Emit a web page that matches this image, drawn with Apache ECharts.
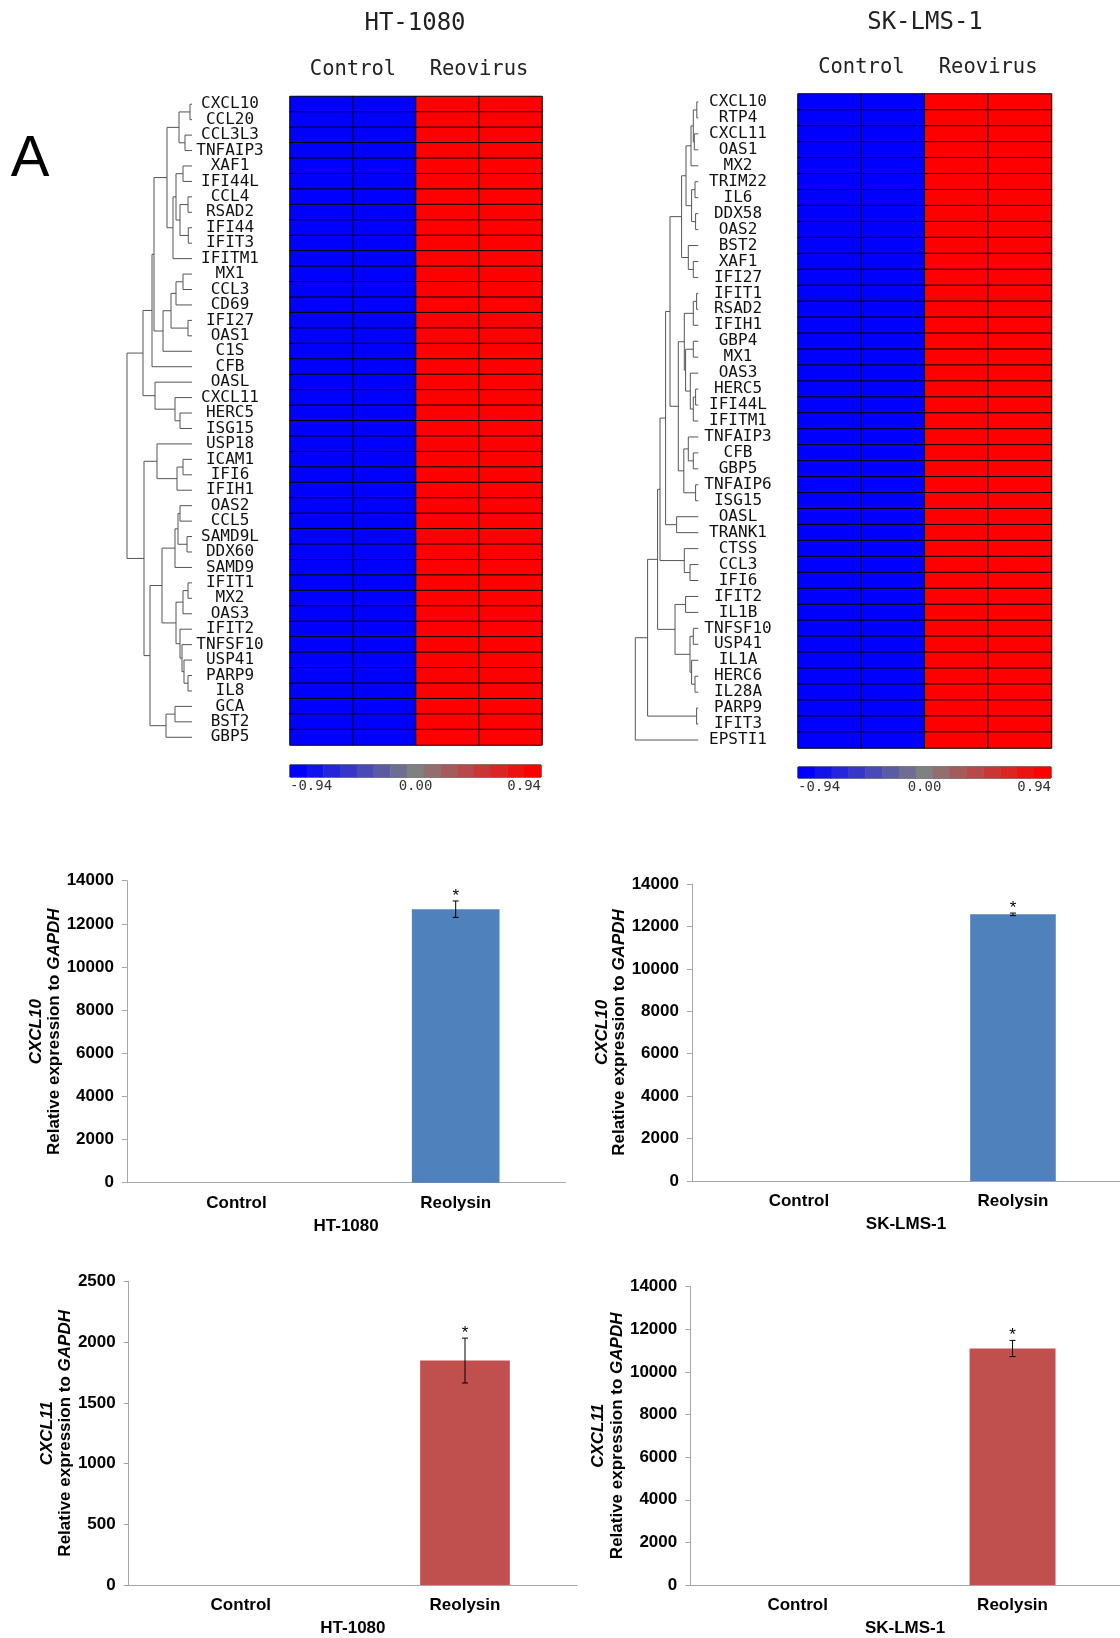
<!DOCTYPE html>
<html>
<head>
<meta charset="utf-8">
<title>Reovirus induced ISG expression</title>
<script src="https://cdn.jsdelivr.net/npm/echarts@6/dist/echarts.min.js"></script>
<style>
html, body { margin: 0; padding: 0; background: #fff; }
#main { width: 1120px; height: 1638px; }
</style>
</head>
<body>
<div id="main"></div>
<script>
// heatmap rows, in clustered order
var htGenes = ['CXCL10', 'CCL20', 'CCL3L3', 'TNFAIP3', 'XAF1', 'IFI44L', 'CCL4', 'RSAD2', 'IFI44', 'IFIT3',
    'IFITM1', 'MX1', 'CCL3', 'CD69', 'IFI27', 'OAS1', 'C1S', 'CFB', 'OASL', 'CXCL11', 'HERC5', 'ISG15',
    'USP18', 'ICAM1', 'IFI6', 'IFIH1', 'OAS2', 'CCL5', 'SAMD9L', 'DDX60', 'SAMD9', 'IFIT1', 'MX2', 'OAS3',
    'IFIT2', 'TNFSF10', 'USP41', 'PARP9', 'IL8', 'GCA', 'BST2', 'GBP5'];
var skGenes = ['CXCL10', 'RTP4', 'CXCL11', 'OAS1', 'MX2', 'TRIM22', 'IL6', 'DDX58', 'OAS2', 'BST2', 'XAF1',
    'IFI27', 'IFIT1', 'RSAD2', 'IFIH1', 'GBP4', 'MX1', 'OAS3', 'HERC5', 'IFI44L', 'IFITM1', 'TNFAIP3', 'CFB',
    'GBP5', 'TNFAIP6', 'ISG15', 'OASL', 'TRANK1', 'CTSS', 'CCL3', 'IFI6', 'IFIT2', 'IL1B', 'TNFSF10', 'USP41',
    'IL1A', 'HERC6', 'IL28A', 'PARP9', 'IFIT3', 'EPSTI1'];
var heatColumns = ['C1', 'C2', 'R1', 'R2'];
var groupNames = ['Control', 'Reovirus'];
// every row is saturated in the figure, so one level per column
var htColumnLevels = [-0.94, -0.94, 0.94, 0.94];
var skColumnLevels = [-0.94, -0.94, 0.94, 0.94];
var colorSteps = [-0.94, -0.81, -0.67, -0.54, -0.40, -0.27, -0.13, 0, 0.13, 0.27, 0.40, 0.54, 0.67, 0.81, 0.94];

// dendrograms: [height, childA, childB], a plain number is a leaf row
var htTree = [65,
    [49,
        [40,
            [38,
                [25, [13, [2, 0, 1], [7, 2, 3]], [19, [16, [9, 4, 5], [12, [4, 6, 7], [3.7, 8, 9]]], 10]],
                [29, [21, [16, [9, 11, 12], 13], [4, 14, 15]], 16]],
            17],
        [37, 18, [17, 19, [12, 20, 21]]]],
    [48,
        [35, 22, [15, [9, 23, 24], 25]],
        [42,
            [30,
                [17, [14, [12, 26, 27], [5, 28, 29]], 30],
                [16, [9, [4, 31, 32], 33], [12, 34, [10, 35, [8, 36, [4, 37, 38]]]]]],
            [26, [17, 39, 40], 41]]]];
var skTree = [63,
    [50.7,
        [40.7,
            [38.3,
                [32.7,
                    [28.3,
                        [16.7,
                            [12.3, [7.3, [5, [1.5, 0, 1], [4, 2, 3]], 4], [6.7, [3.3, 5, 6], [2.7, 7, 8]]],
                            [10, 9, [5, 10, 11]]],
                        [20,
                            [14, [5, [1.7, 12, 13], 14], [12.7, [5, 15, 16], [8, 17, [5, [2.7, 18, 19], 20]]]],
                            [14.5, [10, 21, [5, 22, 23]], [2.7, 24, 25]]]],
                    [21.7, 26, 27]],
                [14, 28, [8.3, 29, 30]]],
            [23.3, [12.7, 31, 32], [8.3, [5, 33, 34], [6.7, 35, [3.3, 36, 37]]]]],
        [1.7, 38, 39]],
    40];

// qPCR, relative expression to GAPDH
var barCategories = ['Control', 'Reolysin'];
var significant = [false, true];
var htCxcl10 = [1, 12680];
var htCxcl10Err = [0, 380];
var skCxcl10 = [1, 12570];
var skCxcl10Err = [0, 60];
var htCxcl11 = [1, 1850];
var htCxcl11Err = [0, 185];
var skCxcl11 = [1, 11100];
var skCxcl11Err = [0, 380];

var MONO = '"DejaVu Sans Mono", monospace';
var SANS = '"Liberation Sans", Arial, sans-serif';

function heatData(genes, levels) {
    let out = [];
    genes.forEach(function (g, r) {
        levels.forEach(function (v, c) {
            out.push([c, r, v]);
        });
    });
    return out;
}

function dendroSegments(tree) {
    let segs = [];
    function walk(node) {
        if (typeof node === 'number') {
            return { h: 0, y: node + 0.5 };
        }
        let a = walk(node[1]);
        let b = walk(node[2]);
        let h = node[0];
        segs.push([a.h, a.y, h, a.y]);
        segs.push([b.h, b.y, h, b.y]);
        segs.push([h, a.y, h, b.y]);
        return { h: h, y: (a.y + b.y) / 2 };
    }
    walk(tree);
    return segs;
}

function renderSegment(params, api) {
    let p1 = api.coord([api.value(0), api.value(1)]);
    let p2 = api.coord([api.value(2), api.value(3)]);
    return {
        type: 'line',
        shape: { x1: p1[0], y1: p1[1], x2: p2[0], y2: p2[1] },
        style: { stroke: '#555', lineWidth: 1 }
    };
}

function renderError(params, api) {
    let m = api.value(1), e = api.value(2);
    if (!e) {
        return null;
    }
    let top = api.coord([api.value(0), m + e]);
    let bot = api.coord([api.value(0), m - e]);
    let cx = top[0];
    let st = { stroke: '#000', lineWidth: 1 };
    let kids = [
        { type: 'line', shape: { x1: cx, y1: top[1], x2: cx, y2: bot[1] }, style: st },
        { type: 'line', shape: { x1: cx - 3, y1: top[1], x2: cx + 3, y2: top[1] }, style: st },
        { type: 'line', shape: { x1: cx - 3, y1: bot[1], x2: cx + 3, y2: bot[1] }, style: st }
    ];
    if (api.value(3)) {
        kids.push({
            type: 'text',
            style: {
                text: '*', x: cx, y: top[1] - 5, textAlign: 'center', textVerticalAlign: 'middle',
                font: '17px ' + SANS, fill: '#000'
            }
        });
    }
    return { type: 'group', children: kids };
}

function errData(vals, errs) {
    return barCategories.map(function (c, i) {
        return [i, vals[i], errs[i], significant[i] ? 1 : 0];
    });
}

// layout of every panel
var grids = [
    { left: 127, top: 96.5, width: 65, height: 648.5 },
    { left: 290, top: 96.5, width: 252, height: 648.5 },
    { left: 290, top: 765, width: 251, height: 12, show: true, borderColor: '#000', borderWidth: 1, backgroundColor: 'transparent' },
    { left: 635.3, top: 94, width: 63, height: 654 },
    { left: 798, top: 94, width: 253.5, height: 654 },
    { left: 798, top: 767, width: 253, height: 11, show: true, borderColor: '#000', borderWidth: 1, backgroundColor: 'transparent' },
    { left: 126.9, top: 880.7, width: 438.4, height: 302 },
    { left: 691.9, top: 884, width: 430.4, height: 297 },
    { left: 128.7, top: 1281.7, width: 448.4, height: 305 },
    { left: 690.2, top: 1286.7, width: 432.4, height: 300 }
];

function hiddenValue(grid, max, inverse) {
    return { type: 'value', gridIndex: grid, min: 0, max: max, inverse: inverse, show: false };
}
function hiddenCat(grid, data) {
    return { type: 'category', gridIndex: grid, data: data, show: false };
}
function groupAxis(grid, margin) {
    return {
        type: 'category', gridIndex: grid, position: 'top', data: groupNames,
        axisLine: { show: false }, axisTick: { show: false },
        axisLabel: { interval: 0, hideOverlap: false, margin: margin, fontFamily: MONO, fontSize: 20.5, color: '#222' }
    };
}
function scaleAxis(grid) {
    return {
        type: 'value', gridIndex: grid, position: 'bottom', min: -0.94, max: 0.94, interval: 0.94,
        axisLine: { show: false }, axisTick: { show: false }, splitLine: { show: false },
        axisLabel: {
            margin: 2, fontFamily: MONO, fontSize: 14, color: '#333',
            alignMinLabel: 'left', alignMaxLabel: 'right',
            formatter: function (v) { return v.toFixed(2); }
        }
    };
}
function geneAxis(grid, genes) {
    return {
        type: 'category', gridIndex: grid, data: genes, inverse: true,
        axisLine: { show: false }, axisTick: { show: false },
        axisLabel: { interval: 0, margin: 60, align: 'center', fontFamily: MONO, fontSize: 16, color: '#111' }
    };
}

var axisGray = '#a6a6a6';
function barXAxis(grid, name) {
    return {
        type: 'category', gridIndex: grid, data: barCategories, name: name,
        nameLocation: 'middle', nameGap: 35,
        nameTextStyle: { fontFamily: SANS, fontWeight: 'bold', fontSize: 17, color: '#000' },
        axisLine: { lineStyle: { color: axisGray } },
        axisTick: { length: 5, lineStyle: { color: axisGray } },
        axisLabel: { interval: 0, margin: 12, fontFamily: SANS, fontWeight: 'bold', fontSize: 17, color: '#000' }
    };
}
function barYAxis(grid, max, interval, gene, gap, lh) {
    let txt = { fontFamily: SANS, fontWeight: 'bold', fontSize: 17, lineHeight: lh, color: '#000' };
    return {
        type: 'value', gridIndex: grid, min: 0, max: max, interval: interval,
        name: '{i|' + gene + '}\n{n|Relative expression to }{i|GAPDH}',
        nameLocation: 'middle', nameRotate: 90, nameGap: gap,
        nameTextStyle: {
            rich: {
                i: Object.assign({}, txt, { fontStyle: 'italic' }),
                n: txt
            }
        },
        axisLine: { show: true, lineStyle: { color: axisGray } },
        axisTick: { show: true, length: 5, lineStyle: { color: axisGray } },
        splitLine: { show: false },
        axisLabel: {
            margin: 13, fontFamily: SANS, fontWeight: 'bold', fontSize: 17, color: '#000',
            formatter: function (v) { return String(v); }
        }
    };
}

function barSeries(grid, vals, color) {
    return {
        type: 'bar', xAxisIndex: 10 + grid - 6, yAxisIndex: 6 + grid - 6, data: vals,
        barWidth: '40%', itemStyle: { color: color }, silent: true
    };
}
function errSeries(grid, vals, errs) {
    return {
        type: 'custom', xAxisIndex: 10 + grid - 6, yAxisIndex: 6 + grid - 6,
        data: errData(vals, errs), renderItem: renderError, silent: true, z: 5
    };
}

var myChart = echarts.init(document.getElementById('main'), null, { renderer: 'canvas' });
var option = {
    animation: false,
    backgroundColor: '#fff',
    graphic: [
        { type: 'text', x: 30, y: 160, style: { text: 'A', font: '58px ' + SANS, fill: '#000', textAlign: 'center', textVerticalAlign: 'middle' } },
        { type: 'text', x: 415, y: 24, style: { text: 'HT-1080', font: '24px ' + MONO, fill: '#222', textAlign: 'center', textVerticalAlign: 'middle' } },
        { type: 'text', x: 925, y: 23, style: { text: 'SK-LMS-1', font: '24px ' + MONO, fill: '#222', textAlign: 'center', textVerticalAlign: 'middle' } }
    ],
    visualMap: {
        type: 'continuous', show: false, min: -0.94, max: 0.94, seriesIndex: [1, 2, 4, 5],
        inRange: { color: ['#0000ff', '#808080', '#ff0000'] }
    },
    grid: grids,
    xAxis: [
        hiddenValue(0, 65, true),
        hiddenCat(1, heatColumns),
        groupAxis(1, 16),
        hiddenCat(2, colorSteps),
        scaleAxis(2),
        hiddenValue(3, 63, true),
        hiddenCat(4, heatColumns),
        groupAxis(4, 16),
        hiddenCat(5, colorSteps),
        scaleAxis(5),
        barXAxis(6, 'HT-1080'),
        barXAxis(7, 'SK-LMS-1'),
        barXAxis(8, 'HT-1080'),
        barXAxis(9, 'SK-LMS-1')
    ],
    yAxis: [
        hiddenValue(0, htGenes.length, true),
        geneAxis(1, htGenes),
        hiddenCat(2, ['scale']),
        hiddenValue(3, skGenes.length, true),
        geneAxis(4, skGenes),
        hiddenCat(5, ['scale']),
        barYAxis(6, 14000, 2000, 'CXCL10', 63, 18),
        barYAxis(7, 14000, 2000, 'CXCL10', 64, 17),
        barYAxis(8, 2500, 500, 'CXCL11', 54, 18.5),
        barYAxis(9, 14000, 2000, 'CXCL11', 61, 19.5)
    ],
    series: [
        { type: 'custom', xAxisIndex: 0, yAxisIndex: 0, data: dendroSegments(htTree), renderItem: renderSegment, silent: true },
        {
            type: 'heatmap', xAxisIndex: 1, yAxisIndex: 1, data: heatData(htGenes, htColumnLevels),
            itemStyle: { borderColor: '#000', borderWidth: 1 }, silent: true
        },
        {
            type: 'heatmap', xAxisIndex: 3, yAxisIndex: 2,
            data: colorSteps.map(function (v, i) { return [i, 0, v]; }), silent: true
        },
        { type: 'custom', xAxisIndex: 5, yAxisIndex: 3, data: dendroSegments(skTree), renderItem: renderSegment, silent: true },
        {
            type: 'heatmap', xAxisIndex: 6, yAxisIndex: 4, data: heatData(skGenes, skColumnLevels),
            itemStyle: { borderColor: '#000', borderWidth: 1 }, silent: true
        },
        {
            type: 'heatmap', xAxisIndex: 8, yAxisIndex: 5,
            data: colorSteps.map(function (v, i) { return [i, 0, v]; }), silent: true
        },
        barSeries(6, htCxcl10, '#4f81bd'),
        errSeries(6, htCxcl10, htCxcl10Err),
        barSeries(7, skCxcl10, '#4f81bd'),
        errSeries(7, skCxcl10, skCxcl10Err),
        barSeries(8, htCxcl11, '#c0504d'),
        errSeries(8, htCxcl11, htCxcl11Err),
        barSeries(9, skCxcl11, '#c0504d'),
        errSeries(9, skCxcl11, skCxcl11Err)
    ]
};
if (option && typeof option === 'object') {
    myChart.setOption(option, true);
}
</script>
</body>
</html>
